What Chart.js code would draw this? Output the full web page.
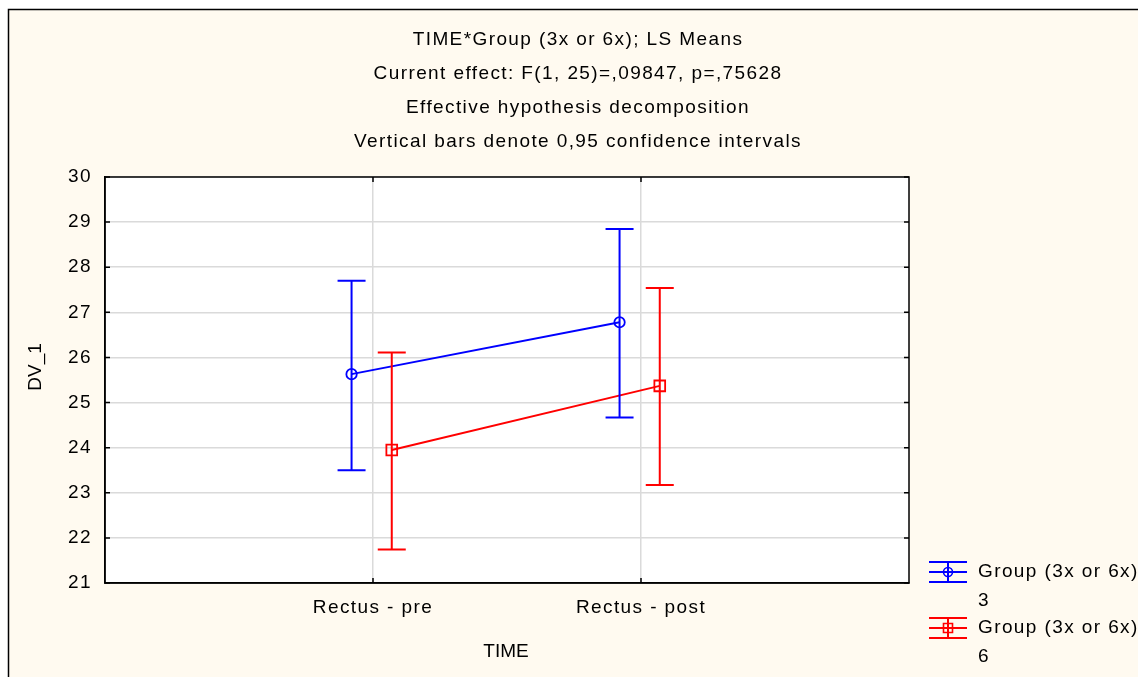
<!DOCTYPE html>
<html><head><meta charset="utf-8">
<script src="https://cdn.jsdelivr.net/npm/chart.js@4.4.1/dist/chart.umd.min.js"></script>
<style>html,body{margin:0;padding:0;background:#fff;overflow:hidden}</style>
</head><body>
<canvas id="c" width="1138" height="677"></canvas>
<script>
// ---- data ----
const categories = ['Rectus - pre', 'Rectus - post'];
const categoryPositions = [1, 2];
const group3Means = [25.63, 26.78];
const group3Lower = [23.50, 24.67];
const group3Upper = [27.70, 28.85];
const group6Means = [23.95, 25.37];
const group6Lower = [21.74, 23.17];
const group6Upper = [26.11, 27.54];
const yTicks = [21, 22, 23, 24, 25, 26, 27, 28, 29, 30];
const titleLines = [
  'TIME*Group (3x or 6x); LS Means',
  'Current effect: F(1, 25)=,09847, p=,75628',
  'Effective hypothesis decomposition',
  'Vertical bars denote 0,95 confidence intervals'
];
const seriesNames = [['Group (3x or 6x)', '3'], ['Group (3x or 6x)', '6']];
const xTitle = 'TIME';
const yTitle = 'DV_1';

// ---- styles ----
const FONT = "'Liberation Sans', Arial, sans-serif";
const FSIZE = 19;
const SPACING = '1.4px';
const series = [
  { means: group3Means, lower: group3Lower, upper: group3Upper, color: '#0000FF', style: 'circle', radius: 5.2, dodge: -0.08 },
  { means: group6Means, lower: group6Lower, upper: group6Upper, color: '#FF0000', style: 'rect', radius: 7.6, dodge: 0.07 }
];

const datasets = series.map((s, k) => ({
  label: seriesNames[k].join(' '),
  data: s.means.map((m, i) => ({ x: categoryPositions[i] + s.dodge, y: m })),
  showLine: true,
  borderColor: s.color,
  borderWidth: 2,
  pointStyle: s.style,
  pointRadius: s.radius,
  pointBorderColor: s.color,
  pointBackgroundColor: 'rgba(0,0,0,0)',
  pointBorderWidth: 1.8,
  tension: 0
}));

const framePlugin = {
  id: 'frame',
  beforeDraw(chart) {
    const ctx = chart.ctx, a = chart.chartArea;
    ctx.save();
    ctx.fillStyle = '#ffffff';
    ctx.fillRect(0, 0, chart.width, chart.height);
    ctx.fillStyle = '#FFFAF0';
    ctx.fillRect(8, 9, chart.width, chart.height);
    ctx.fillStyle = '#ffffff';
    ctx.fillRect(a.left, a.top, a.right - a.left, a.bottom - a.top);
    ctx.restore();
    ctx.letterSpacing = SPACING;
  },
  afterDatasetsDraw(chart) {
    const ctx = chart.ctx, xs = chart.scales.x, ys = chart.scales.y;
    ctx.save();
    series.forEach(s => {
      ctx.strokeStyle = s.color;
      ctx.lineWidth = 2;
      s.means.forEach((m, i) => {
        const px = xs.getPixelForValue(categoryPositions[i] + s.dodge);
        const yl = ys.getPixelForValue(s.lower[i]);
        const yu = ys.getPixelForValue(s.upper[i]);
        ctx.beginPath();
        ctx.moveTo(px, yl); ctx.lineTo(px, yu);
        ctx.moveTo(px - 14, yl); ctx.lineTo(px + 14, yl);
        ctx.moveTo(px - 14, yu); ctx.lineTo(px + 14, yu);
        ctx.stroke();
      });
    });
    ctx.restore();
  },
  afterDraw(chart) {
    const ctx = chart.ctx, a = chart.chartArea, xs = chart.scales.x, ys = chart.scales.y;
    ctx.save();
    // outer frame
    ctx.strokeStyle = '#000'; ctx.lineWidth = 1.5;
    ctx.strokeRect(8.5, 9.5, chart.width + 20, chart.height + 20);
    // plot frame
    ctx.strokeRect(a.left, a.top, a.right - a.left, a.bottom - a.top);
    // inner tick marks
    ctx.beginPath();
    yTicks.forEach(v => {
      const y = ys.getPixelForValue(v);
      ctx.moveTo(a.left, y); ctx.lineTo(a.left + 5, y);
      ctx.moveTo(a.right, y); ctx.lineTo(a.right - 5, y);
    });
    categoryPositions.forEach(v => {
      const x = xs.getPixelForValue(v);
      ctx.moveTo(x, a.top); ctx.lineTo(x, a.top + 5);
      ctx.moveTo(x, a.bottom); ctx.lineTo(x, a.bottom - 5);
    });
    ctx.stroke();
    // titles
    ctx.fillStyle = '#000';
    ctx.font = FSIZE + 'px ' + FONT;
    ctx.textAlign = 'center';
    ctx.textBaseline = 'middle';
    ctx.letterSpacing = SPACING;
    const tY = [40, 74, 108, 142];
    titleLines.forEach((t, i) => ctx.fillText(t, 578, tY[i]));
    // axis titles
    ctx.letterSpacing = '0px';
    ctx.fillText(xTitle, 506, 652);
    ctx.save();
    ctx.translate(36, 367);
    ctx.rotate(-Math.PI / 2);
    ctx.fillText(yTitle, 0, 0);
    ctx.restore();
    // legend
    const legY = [572, 628];
    ctx.textAlign = 'left';
    ctx.letterSpacing = SPACING;
    series.forEach((s, k) => {
      const cy = legY[k], cx = 948;
      ctx.strokeStyle = s.color; ctx.lineWidth = 2;
      ctx.beginPath();
      ctx.moveTo(929, cy - 10); ctx.lineTo(967, cy - 10);
      ctx.moveTo(929, cy); ctx.lineTo(967, cy);
      ctx.moveTo(929, cy + 10); ctx.lineTo(967, cy + 10);
      ctx.moveTo(cx, cy - 10); ctx.lineTo(cx, cy + 10);
      ctx.stroke();
      ctx.lineWidth = 1.6;
      ctx.beginPath();
      if (s.style === 'circle') ctx.arc(cx, cy, 4.5, 0, Math.PI * 2);
      else ctx.rect(cx - 4.5, cy - 4.5, 9, 9);
      ctx.stroke();
      ctx.fillStyle = '#000';
      ctx.fillText(seriesNames[k][0], 978, cy);
      ctx.fillText(seriesNames[k][1], 978, cy + 29);
    });
    ctx.restore();
  }
};

new Chart(document.getElementById('c'), {
  type: 'line',
  data: { datasets },
  options: {
    responsive: false,
    animation: false,
    devicePixelRatio: 1,
    layout: { padding: { left: 0, top: 177, right: 229, bottom: 0 } },
    plugins: { legend: { display: false }, title: { display: false }, tooltip: { enabled: false } },
    scales: {
      x: {
        type: 'linear', min: 0, max: 3,
        afterBuildTicks(s) { s.ticks = categoryPositions.map(v => ({ value: v })); },
        afterFit(s) { s.height = 94; },
        ticks: { callback: (v, i) => categories[i], font: { family: FONT, size: FSIZE }, color: '#000', padding: 13, maxRotation: 0, autoSkip: false },
        grid: { color: '#dadada', lineWidth: 1.5, drawTicks: false },
        border: { color: '#000', width: 1.5 }
      },
      y: {
        type: 'linear', min: 21, max: 30,
        afterBuildTicks(s) { s.ticks = yTicks.map(v => ({ value: v })); },
        afterFit(s) { s.width = 105; },
        ticks: { font: { family: FONT, size: FSIZE }, color: '#000', padding: 13 },
        grid: { color: '#dadada', lineWidth: 1.5, drawTicks: false },
        border: { color: '#000', width: 1.5 }
      }
    }
  },
  plugins: [framePlugin]
});
</script>
</body></html>
